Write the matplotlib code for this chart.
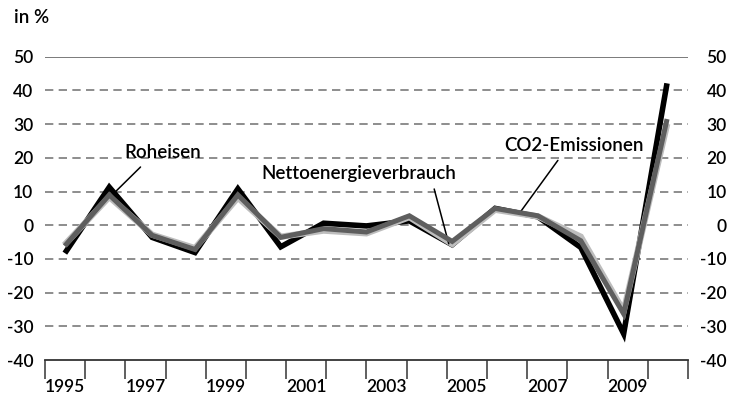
import numpy as np
import matplotlib.pyplot as plt

# Veränderung gegenüber Vorjahr in %
jahre = list(range(1995, 2011))
jahr_labels = [str(j) for j in jahre[::2]]

roheisen = [-7.6, 11.3, -3.6, -8.1, 10.8, -6.4, 0.6, -0.2, 1.3, -5.8, 5.0, 2.5, -6.6, -32.2, 41.3]
netto = [-5.2, 8.4, -2.8, -6.8, 8.2, -3.4, -1.6, -2.4, 2.4, -5.6, 4.6, 2.6, -3.4, -25.5, 29.2]
co2 = [-5.6, 9.0, -3.0, -7.2, 9.0, -3.6, -1.0, -2.0, 2.8, -4.8, 5.0, 2.8, -4.6, -26.3, 30.8]

plt.rcParams["font.family"] = ["Lato", "DejaVu Sans"]
plt.rcParams["axes.unicode_minus"] = False

fig = plt.figure(figsize=(7.29, 3.99), dpi=100)
ax = fig.add_axes([0.0617, 0.0977, 0.882, 0.760])

# Kategorienachse mit Jahren
ax.set_xlim(0, len(jahre))
ax.set_ylim(-40, 50)
ax.set_xticks(np.arange(len(jahre) + 1))
ax.set_xticklabels([])
ax.set_xticks(np.arange(len(jahre))[::2] + 0.5, minor=True)
ax.set_xticklabels(jahr_labels, minor=True, fontsize=12.5, fontweight="semibold")
ax.tick_params(axis="x", which="major", length=14, width=1.2, color="#444444", direction="out")
ax.tick_params(axis="x", which="minor", length=0, pad=14)

yticks = np.arange(-40, 51, 10)
ax.set_yticks(yticks)
ax.tick_params(axis="y", length=0, labelsize=12.5, pad=8.5)
for lbl in ax.get_yticklabels():
    lbl.set_fontweight("semibold")

for s in ["left", "right", "top"]:
    ax.spines[s].set_visible(False)
ax.spines["bottom"].set_color("#333333")
ax.spines["bottom"].set_linewidth(1.3)

for y in range(-30, 50, 10):
    ax.axhline(y, color="#7a7a7a", lw=1.2, ls=(0, (5, 3.2)), zorder=1)
ax.axhline(50, color="#7a7a7a", lw=1.4, zorder=1)

# rechte Achse, Beschriftung rechtsbündig
axr = ax.twinx()
axr.set_ylim(-40, 50)
axr.set_yticks(yticks)
axr.tick_params(axis="y", length=0, labelsize=12.5, pad=28)
for lbl in axr.get_yticklabels():
    lbl.set_fontweight("semibold")
    lbl.set_horizontalalignment("right")
for s in axr.spines.values():
    s.set_visible(False)

# Linien auf eigener Kategorienachse
ax2 = ax.twiny()
ax2.set_xlim(0, len(roheisen))
ax2.set_ylim(-40, 50)
ax2.axis("off")
xs = np.arange(len(roheisen)) + 0.5
ax2.plot(xs, roheisen, color="black", lw=4, zorder=2, solid_joinstyle="miter")
ax2.plot(xs, netto, color="#bdbdbd", lw=4.5, zorder=3, solid_joinstyle="miter")
ax2.plot(xs, co2, color="#5e5e5e", lw=3.6, zorder=4, solid_joinstyle="miter")

tkw = dict(fontsize=13.5, fontweight="semibold", ha="center", va="center")
ax2.annotate("Roheisen", xy=(1.64, 9.9), xytext=(2.74, 21.5),
             arrowprops=dict(arrowstyle="-", color="black", lw=1.1,
                             relpos=(0.29, 0), shrinkA=3, shrinkB=0), **tkw)
ax2.annotate("Nettoenergieverbrauch", xy=(9.42, -5.5), xytext=(7.31, 15.3),
             arrowprops=dict(arrowstyle="-", color="black", lw=1.1,
                             relpos=(0.88, 0), shrinkA=3, shrinkB=0), **tkw)
ax2.annotate("CO2-Emissionen", xy=(11.06, 3.4), xytext=(12.33, 23.6),
             arrowprops=dict(arrowstyle="-", color="black", lw=1.1,
                             relpos=(0.42, 0), shrinkA=3, shrinkB=0), **tkw)

fig.text(0.019, 0.955, "in %", fontsize=13.5, fontweight="semibold", va="center")

fig.savefig("out.png", dpi=100)
